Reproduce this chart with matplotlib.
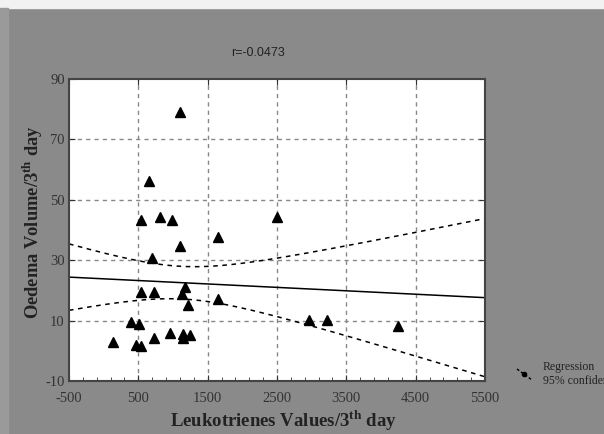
import numpy as np
import matplotlib
matplotlib.use("Agg")
import matplotlib.pyplot as plt
from matplotlib.patches import Rectangle

# leukotrienes (x) vs oedema volume (y)
leuko = [1096, 654, 539, 813, 986, 2496, 1644, 1096, 698, 1174, 1131, 539, 727,
         1644, 1221, 389, 504, 2968, 3227, 4247, 129, 467, 539, 727, 957, 1149,
         1149, 1246]
oedema = [79.0, 56.1, 43.2, 44.4, 43.2, 44.4, 37.6, 34.8, 30.6, 21.1, 18.7, 19.5,
          19.5, 17.3, 15.1, 9.4, 9.0, 10.2, 10.2, 8.2, 2.9, 2.0, 1.7, 4.2, 5.8,
          5.6, 4.4, 5.3]
# regression line and 95% band as drawn (values at x=-500 and x=5500)
fit_ends = [24.4, 17.6]
band_half_ends = [11.0, 26.2]
band_half_min = 5.4
xticks = [-500, 500, 1500, 2500, 3500, 4500, 5500]
yticks = [-10, 10, 30, 50, 70, 90]
r_text = "r=-0.0473"

plt.rcParams['font.family'] = ['Liberation Serif', 'DejaVu Serif']
plt.rcParams['mathtext.fontset'] = 'custom'
plt.rcParams['mathtext.rm'] = 'Liberation Serif'
plt.rcParams['mathtext.bf'] = 'Liberation Serif:bold'
plt.rcParams['axes.unicode_minus'] = False

W, H = 604, 434
fig = plt.figure(figsize=(W / 100, H / 100), dpi=100, facecolor='#8a8a8a')
# light strips at the top and left edge of the scanned page
fig.patches.append(Rectangle((0, 1 - 8 / H), 1, 8 / H, transform=fig.transFigure,
                             color='#f2f2f2', zorder=0))
fig.patches.append(Rectangle((0, 0), 8 / W, 1 - 8 / H, transform=fig.transFigure,
                             color='#9a9a9a', zorder=0))

ax = fig.add_axes([69 / W, 1 - 381 / H, (485 - 69) / W, (381 - 79) / H])
ax.set_facecolor('white')

x0_, x1_ = xticks[0], xticks[-1]
xs = np.linspace(x0_, x1_, 200)
fit = fit_ends[0] + (fit_ends[1] - fit_ends[0]) * (xs - x0_) / (x1_ - x0_)
# hyperbolic confidence band: half = sqrt(h0^2 + k^2 (x - xc)^2)
hl2 = band_half_ends[0] ** 2 - band_half_min ** 2
hr2 = band_half_ends[1] ** 2 - band_half_min ** 2
ratio = np.sqrt(hr2 / hl2)
xc = (x1_ + ratio * x0_) / (1 + ratio)
k = np.sqrt(hl2) / (xc - x0_)
half = np.sqrt(band_half_min ** 2 + k ** 2 * (xs - xc) ** 2)

ax.plot(xs, fit, color='black', lw=1.1)
ax.plot(xs, fit + half, color='black', lw=1.1, ls=(0, (3, 3)))
ax.plot(xs, fit - half, color='black', lw=1.1, ls=(0, (3, 3)))
ax.plot(leuko, oedema, '^', color='black', ms=6.5, ls='none')

ax.set_xlim(x0_, x1_)
ax.set_ylim(-10, 90)
ax.set_xticks(xticks)
ax.set_yticks(yticks)
ax.set_xticks(np.arange(-500, 5501, 200), minor=True)
ax.tick_params(axis='both', which='major', direction='in', length=4,
               labelsize=10.5, colors='#333333', top=True, right=True)
ax.tick_params(axis='x', which='major', pad=8)
ax.tick_params(axis='y', which='major', pad=3)
ax.tick_params(axis='x', which='minor', direction='in', length=3, color='#333333')
for v in xticks[1:-1]:
    ax.axvline(v, color='#888888', lw=1, ls=(0, (3, 3)), zorder=0)
for v in yticks[1:-1]:
    ax.axhline(v, color='#888888', lw=1, ls=(0, (3, 3)), zorder=0)
for sp in ax.spines.values():
    sp.set_color('#444444')
    sp.set_linewidth(1.5)

ax.set_xlabel(r'Leukotrienes Values/3$^{\mathbf{th}}$ day', fontsize=13.5,
              fontweight='bold', color='#222222')
ax.set_ylabel(r'Oedema Volume/3$^{\mathbf{th}}$ day', fontsize=13.3,
              fontweight='bold', color='#222222')
ax.xaxis.set_label_coords((283 - 69) / 416, -(408 - 381) / 302)
ax.yaxis.set_label_coords(-(69 - 45) / 416, (381 - 222) / 302)

fig.text(258 / W, 1 - 53 / H, r_text, fontsize=9, ha='center', va='center',
         family=['Liberation Sans Narrow', 'Liberation Sans', 'DejaVu Sans'],
         color='#222222')

# legend fragment, clipped at the right edge
fig.add_artist(plt.Line2D([517 / W, 532 / W], [1 - 369 / H, 1 - 380 / H],
                          transform=fig.transFigure, color='black', lw=1,
                          ls=(0, (2, 1.5))))
fig.add_artist(plt.Line2D([524 / W], [1 - 374 / H], transform=fig.transFigure,
                          marker='o', ms=3, color='black'))
fig.text(543 / W, 1 - 367 / H, 'Regression', fontsize=8.5, va='center',
         color='#222222')
fig.text(543 / W, 1 - 381 / H, '95% confidence', fontsize=8.5, va='center',
         color='#222222')

fig.savefig('out.png', dpi=100, facecolor=fig.get_facecolor())
